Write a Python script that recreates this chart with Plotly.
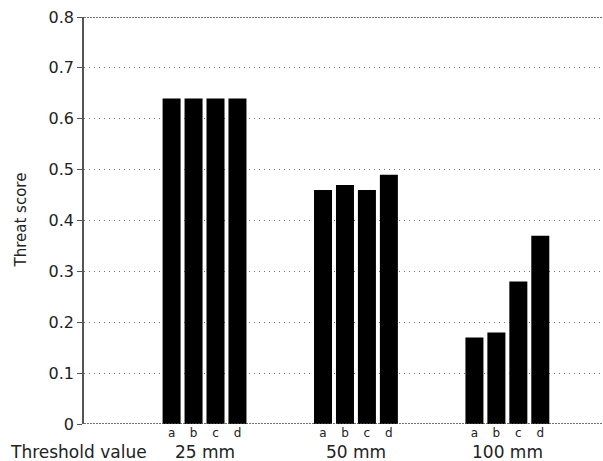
import plotly.graph_objects as go

groups = ["25 mm", "50 mm", "100 mm"]
series_names = ["a", "b", "c", "d"]
values = {
    "a": [0.64, 0.46, 0.17],
    "b": [0.64, 0.47, 0.18],
    "c": [0.64, 0.46, 0.28],
    "d": [0.64, 0.49, 0.37],
}
y_ticks = [0, 0.1, 0.2, 0.3, 0.4, 0.5, 0.6, 0.7, 0.8]
y_ticklabels = ["0", "0.1", "0.2", "0.3", "0.4", "0.5", "0.6", "0.7", "0.8"]

group_pos = [1, 2, 3]
slot = 0.145
font = "DejaVu Sans, sans-serif"

fig = go.Figure()
for s in series_names:
    fig.add_trace(go.Bar(x=group_pos, y=values[s], name=s,
                         marker=dict(color="black", line=dict(width=0))))

tickvals, ticktext = [], []
for g in group_pos:
    for i, s in enumerate(series_names):
        tickvals.append(g + (i - 1.5) * slot)
        ticktext.append(s)

fig.update_layout(
    barmode="group",
    bargap=0.42,
    bargroupgap=0.18,
    width=603, height=461,
    margin=dict(l=84, r=1, t=17, b=37),
    plot_bgcolor="white", paper_bgcolor="white",
    showlegend=False,
    font=dict(family=font, color="#222", size=15),
    xaxis=dict(range=[0.204, 3.625], tickvals=tickvals, ticktext=ticktext,
               tickfont=dict(size=12), ticks="", showgrid=False,
               zeroline=False, showline=False, ticklen=0, automargin=False),
    yaxis=dict(range=[0, 0.8], tickvals=y_ticks, ticktext=y_ticklabels,
               showgrid=True, gridcolor="#777", griddash="1px,4px", gridwidth=1,
               ticks="outside", ticklen=5, tickcolor="#555",
               showline=True, linecolor="#555", linewidth=1.5,
               zeroline=False, automargin=False, tickfont=dict(size=16)),
)

for yv in [0, 0.8]:
    fig.add_shape(type="line", xref="paper", yref="y", x0=0, x1=1, y0=yv, y1=yv,
                  line=dict(color="#444", width=1.5, dash="2px,1px"))

fig.add_annotation(x=0, y=0.5, xref="paper", yref="paper", xshift=-64,
                   text="Threat score", textangle=-90, showarrow=False,
                   font=dict(size=15), xanchor="center", yanchor="middle")

for g, label in zip(group_pos, groups):
    fig.add_annotation(x=g, y=0, xref="x", yref="paper", yshift=-28,
                       text=label, showarrow=False, font=dict(size=17),
                       yanchor="middle")
fig.add_annotation(x=0, y=0, xref="paper", yref="paper", xshift=-6, yshift=-28,
                   text="Threshold value", showarrow=False, font=dict(size=17),
                   xanchor="center", yanchor="middle")

fig.write_html("out.html", config={"displayModeBar": False},
               post_script="document.body.style.margin='0';document.body.style.overflow='hidden';")
